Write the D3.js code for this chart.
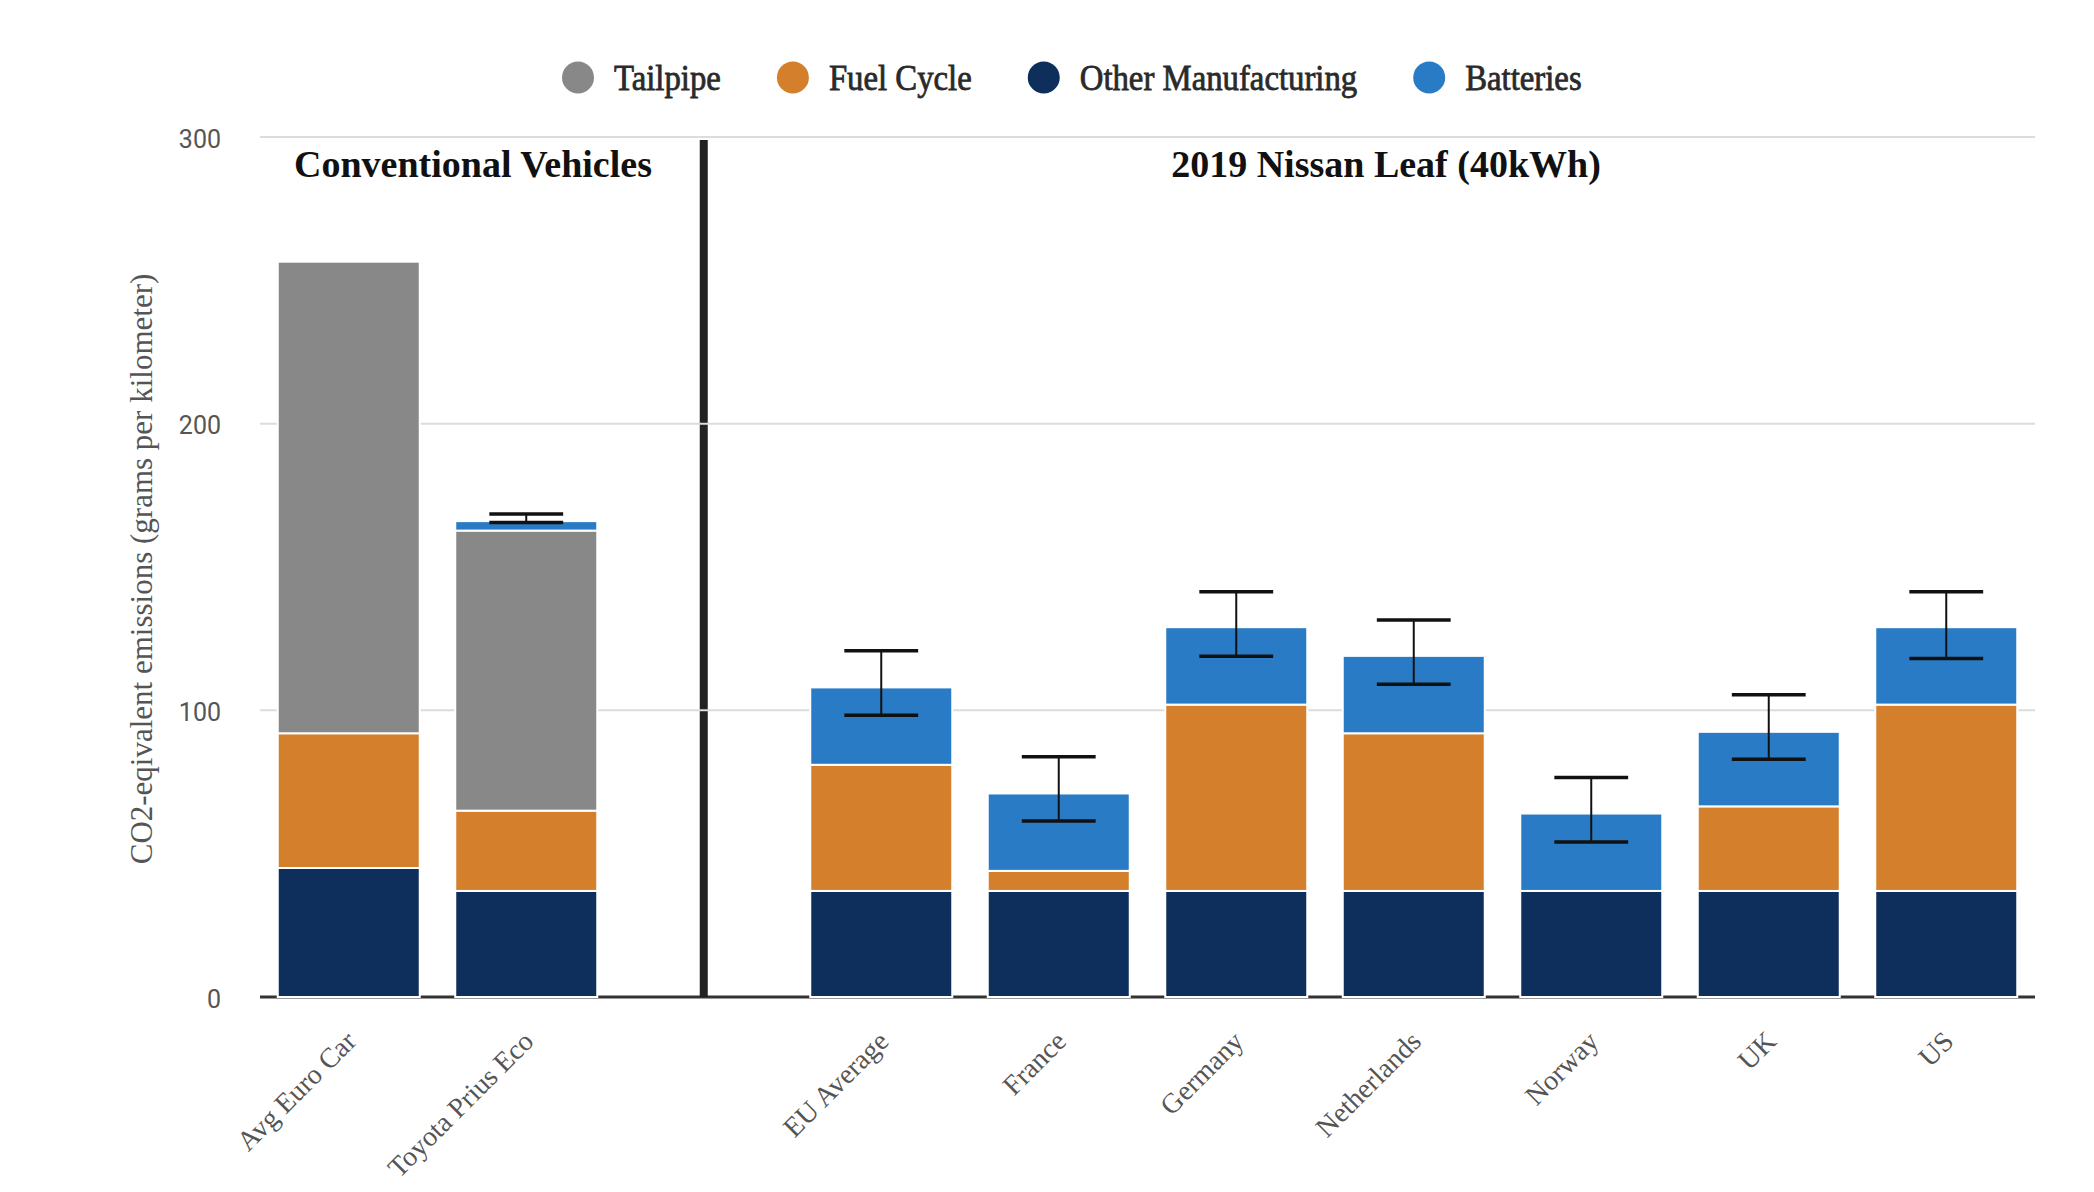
<!DOCTYPE html>
<html>
<head>
<meta charset="utf-8">
<script src="https://cdn.jsdelivr.net/npm/d3@7"></script>
<style>
  html, body { margin: 0; padding: 0; background: #fff; }
  svg { display: block; }
</style>
</head>
<body>
<svg id="chart" width="2094" height="1192"></svg>
<script>
// ---------- DATA ----------
const conventionalCategories = ["Avg Euro Car", "Toyota Prius Eco"];
const evCategories = ["EU Average", "France", "Germany", "Netherlands", "Norway", "UK", "US"];
const categories = conventionalCategories.concat(evCategories);

const seriesKeys = ["Other Manufacturing", "Fuel Cycle", "Tailpipe", "Batteries"];
const legendOrder = ["Tailpipe", "Fuel Cycle", "Other Manufacturing", "Batteries"];

const otherManufacturing = [45, 37, 37, 37, 37, 37, 37, 37, 37];
const fuelCycle          = [47, 28, 44, 7, 65, 55, 0, 29.5, 65];
const tailpipe           = [164.5, 97.7, 0, 0, 0, 0, 0, 0, 0];
const batteries          = [0, 3.3, 27, 27, 27, 27, 27, 26, 27];

const errorLow  = [null, 165.5, 98.3, 61.4, 118.9, 109.1, 54.1, 82.9, 118.1];
const errorHigh = [null, 168.5, 120.8, 83.8, 141.4, 131.5, 76.6, 105.4, 141.4];

const yTicks = [0, 100, 200, 300];
const sectionTitles = ["Conventional Vehicles", "2019 Nissan Leaf (40kWh)"];
const yAxisTitle = "CO2-eqivalent emissions (grams per kilometer)";

// ---------- STYLE ----------
const colors = {
  "Tailpipe": "#888888",
  "Fuel Cycle": "#d47f2c",
  "Other Manufacturing": "#0e2f5b",
  "Batteries": "#2a7bc5"
};
const serif = "'Liberation Serif', 'Times New Roman', serif";

// ---------- SETUP ----------
const svg = d3.select("#chart");
const GAP = "__divider__";
const xDomain = conventionalCategories.concat([GAP], evCategories);

const x = d3.scaleBand().domain(xDomain).range([260, 2035]).paddingInner(0.2).paddingOuter(0.1);
const y = d3.scaleLinear().domain([0, 300]).range([997, 137]);

const rows = categories.map((c, i) => ({
  category: c,
  "Other Manufacturing": otherManufacturing[i],
  "Fuel Cycle": fuelCycle[i],
  "Tailpipe": tailpipe[i],
  "Batteries": batteries[i],
  lo: errorLow[i],
  hi: errorHigh[i]
}));

const stacked = d3.stack().keys(seriesKeys)(rows);

// baseline
svg.append("line")
  .attr("x1", x.range()[0]).attr("x2", x.range()[1])
  .attr("y1", y(0)).attr("y2", y(0))
  .attr("stroke", "#333").attr("stroke-width", 3);

// divider
const divX = x(GAP) + x.bandwidth() / 2;
svg.append("line")
  .attr("x1", divX).attr("x2", divX)
  .attr("y1", y(300) + 3).attr("y2", y(0))
  .attr("stroke", "#222").attr("stroke-width", 8);

// gridlines (drawn over divider)
svg.append("g").selectAll("line")
  .data(yTicks.filter(t => t > 0))
  .join("line")
  .attr("x1", x.range()[0]).attr("x2", x.range()[1])
  .attr("y1", d => y(d)).attr("y2", d => y(d))
  .attr("stroke", "#dcdcdc").attr("stroke-width", 2);

// y tick labels
svg.append("g").selectAll("text")
  .data(yTicks)
  .join("text")
  .attr("x", 221)
  .attr("y", d => y(d) + 4)
  .attr("text-anchor", "end")
  .attr("dominant-baseline", "middle")
  .attr("font-family", "Roboto, sans-serif")
  .attr("font-size", 25)
  .attr("fill", "#555")
  .text(d => d);

// y axis title
svg.append("text")
  .attr("transform", `translate(152, ${(y(0) + y(300)) / 2 + 2}) rotate(-90)`)
  .attr("text-anchor", "middle")
  .attr("font-family", serif)
  .attr("font-size", 31)
  .attr("fill", "#555")
  .text(yAxisTitle);

// bars
const barsG = svg.append("g");
stacked.forEach(layer => {
  barsG.append("g")
    .attr("fill", colors[layer.key])
    .selectAll("rect")
    .data(layer.filter(d => d[1] - d[0] > 0))
    .join("rect")
    .attr("x", d => x(d.data.category))
    .attr("width", x.bandwidth())
    .attr("y", d => y(d[1]))
    .attr("height", d => y(d[0]) - y(d[1]))
    .attr("stroke", "#fff")
    .attr("stroke-width", 2);
});

// error bars
const errRows = rows.filter(r => r.lo != null);
const eg = svg.append("g").attr("stroke", "#111");
const capHalf = x.bandwidth() * 0.26;
errRows.forEach(r => {
  const cx = x(r.category) + x.bandwidth() / 2;
  eg.append("line").attr("x1", cx).attr("x2", cx)
    .attr("y1", y(r.lo)).attr("y2", y(r.hi)).attr("stroke-width", 2);
  [r.lo, r.hi].forEach(v => {
    eg.append("line").attr("x1", cx - capHalf).attr("x2", cx + capHalf)
      .attr("y1", y(v)).attr("y2", y(v)).attr("stroke-width", 3.5);
  });
});

// x labels
svg.append("g").selectAll("text")
  .data(categories)
  .join("text")
  .attr("transform", d => `translate(${x(d) + x.bandwidth() / 2 + 9}, 1043) rotate(-45)`)
  .attr("text-anchor", "end")
  .attr("font-family", serif)
  .attr("font-size", 28)
  .attr("fill", "#555")
  .text(d => d);

// section titles
const titlePos = [473, 1386];
sectionTitles.forEach((t, i) => {
  svg.append("text")
    .attr("x", titlePos[i]).attr("y", 177)
    .attr("text-anchor", "middle")
    .attr("font-family", serif)
    .attr("font-weight", "bold")
    .attr("font-size", 38)
    .attr("fill", "#111")
    .text(t);
});

// legend
const lg = svg.append("g");
let cx = 578;
legendOrder.forEach(k => {
  lg.append("circle").attr("cx", cx).attr("cy", 77.5).attr("r", 16).attr("fill", colors[k]);
  const t = lg.append("text")
    .attr("x", cx + 36).attr("y", 90)
    .attr("font-family", serif)
    .attr("font-size", 36)
    .attr("fill", "#2a2a2a")
    .attr("stroke", "#2a2a2a")
    .attr("stroke-width", 0.8)
    .text(k);
  const w = t.node().getComputedTextLength() * 0.91;
  t.attr("textLength", w).attr("lengthAdjust", "spacingAndGlyphs");
  cx = cx + 36 + w + 72;
});
</script>
</body>
</html>
